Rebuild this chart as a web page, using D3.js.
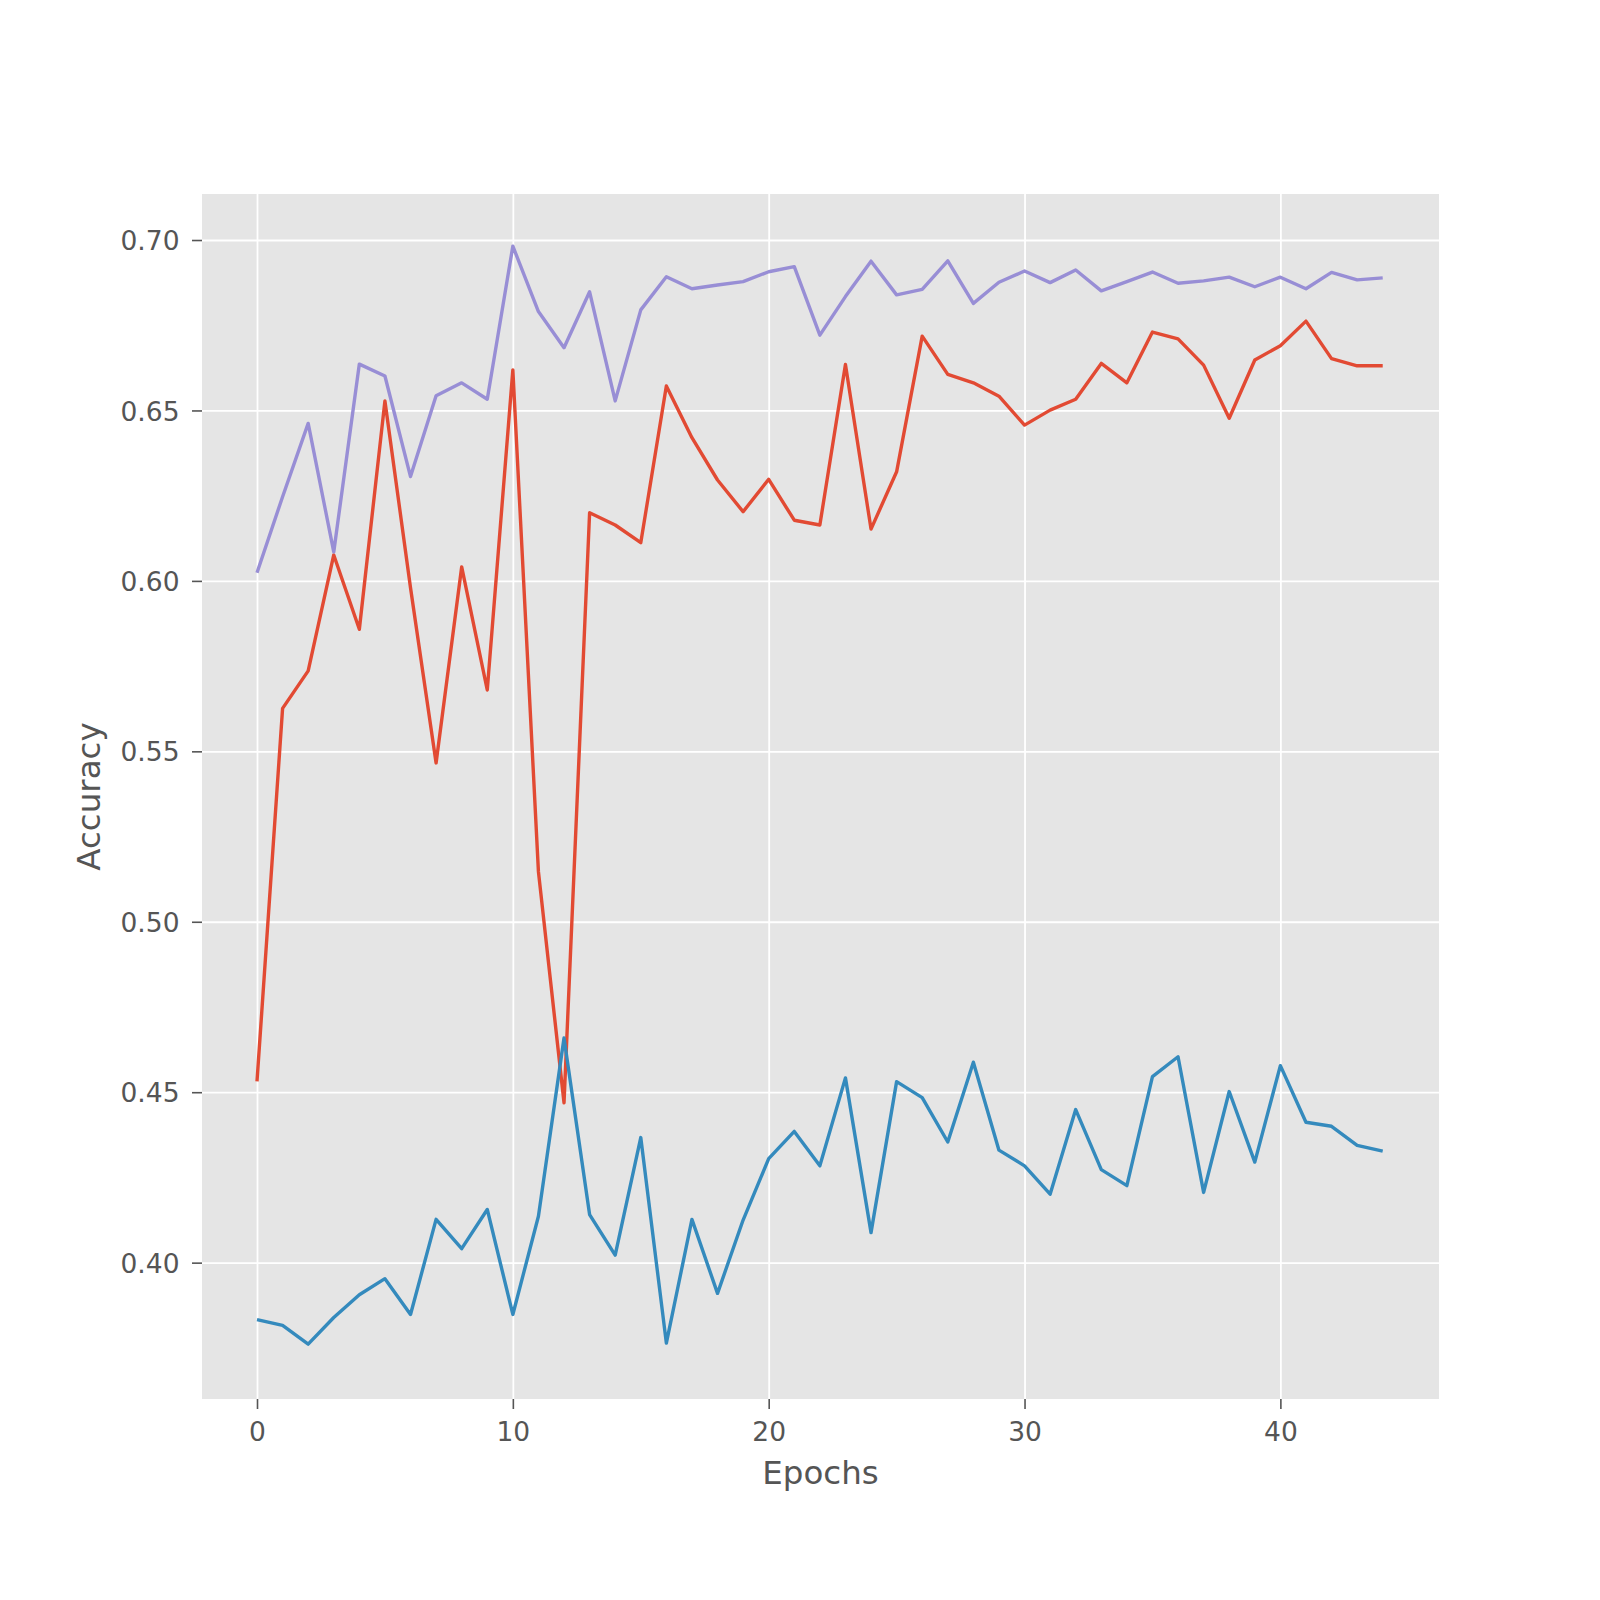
<!DOCTYPE html>
<html>
<head>
<meta charset="utf-8">
<script src="https://cdn.jsdelivr.net/npm/d3@7"></script>
<style>
  html, body { margin: 0; padding: 0; background: #ffffff; }
  svg { display: block; }
</style>
</head>
<body>
<svg id="chart" width="1600" height="1600"></svg>
<script>
// ---- data ----
const epochs = d3.range(0, 45);
const redSeries = [
  0.4532, 0.5626, 0.5736, 0.6076, 0.5858, 0.6528, 0.5980, 0.5466, 0.6041, 0.5680,
  0.6619, 0.5147, 0.4469, 0.6200, 0.6164, 0.6112, 0.6572, 0.6420, 0.6296, 0.6203,
  0.6298, 0.6178, 0.6164, 0.6635, 0.6152, 0.6320, 0.6718, 0.6606, 0.6581, 0.6542,
  0.6457, 0.6501, 0.6533, 0.6638, 0.6581, 0.6730, 0.6710, 0.6633, 0.6477, 0.6648,
  0.6690, 0.6762, 0.6652, 0.6631, 0.6631
];
const blueSeries = [
  0.3833, 0.3816, 0.3761, 0.3839, 0.3906, 0.3953, 0.3848, 0.4127, 0.4041, 0.4156,
  0.3848, 0.4136, 0.4659, 0.4141, 0.4022, 0.4367, 0.3764, 0.4127, 0.3910, 0.4125,
  0.4305, 0.4385, 0.4284, 0.4542, 0.4088, 0.4531, 0.4484, 0.4354, 0.4588, 0.4330,
  0.4284, 0.4201, 0.4449, 0.4273, 0.4226, 0.4546, 0.4604, 0.4206, 0.4502, 0.4295,
  0.4578, 0.4412, 0.4400, 0.4344, 0.4327
];
const purpleSeries = [
  0.6024, 0.6247, 0.6462, 0.6085, 0.6636, 0.6601, 0.6306, 0.6543, 0.6581, 0.6533,
  0.6982, 0.6790, 0.6684, 0.6848, 0.6528, 0.6795, 0.6892, 0.6857, 0.6868, 0.6878,
  0.6907, 0.6922, 0.6721, 0.6834, 0.6938, 0.6839, 0.6855, 0.6939, 0.6814, 0.6876,
  0.6909, 0.6875, 0.6912, 0.6851, 0.6878, 0.6906, 0.6873, 0.6880, 0.6891, 0.6863,
  0.6891, 0.6857, 0.6905, 0.6883, 0.6889
];
const xTicks = [0, 10, 20, 30, 40];
const yTicks = [0.40, 0.45, 0.50, 0.55, 0.60, 0.65, 0.70];
const xLimits = [-2.15, 46.2];
const yLimits = [0.3600, 0.7135];
const xLabel = "Epochs";
const yLabel = "Accuracy";
const seriesColors = ["#E24A33", "#348ABD", "#988ED5"];

// ---- layout ----
const plot = { left: 202, right: 1439, top: 194, bottom: 1399 };
const W = plot.right - plot.left, H = plot.bottom - plot.top;
const tickFont = "26.5px";
const labelFont = "32.5px";
const textColor = "#555555";

const svg = d3.select("#chart");
const g = svg.append("g").attr("transform", `translate(${plot.left},${plot.top})`);

const x = d3.scaleLinear().domain(xLimits).range([0, W]);
const y = d3.scaleLinear().domain(yLimits).range([H, 0]);

// background
g.append("rect").attr("width", W).attr("height", H).attr("fill", "#E5E5E5");

// grid
const gx = g.append("g").attr("transform", `translate(0,${H})`)
  .call(d3.axisBottom(x).tickValues(xTicks).tickSize(-H).tickFormat(""));
const gy = g.append("g")
  .call(d3.axisLeft(y).tickValues(yTicks).tickSize(-W).tickFormat(""));
[gx, gy].forEach(a => {
  a.select(".domain").remove();
  a.selectAll("line").attr("stroke", "#ffffff").attr("stroke-width", 1.8);
});

// lines
const line = d3.line().x((d, i) => x(epochs[i])).y(d => y(d));
[redSeries, blueSeries, purpleSeries].forEach((s, k) => {
  g.append("path").datum(s)
    .attr("d", line)
    .attr("fill", "none")
    .attr("stroke", seriesColors[k])
    .attr("stroke-width", 3.4)
    .attr("stroke-linejoin", "round")
    .attr("stroke-linecap", "butt");
});

// axes
const ax = g.append("g").attr("transform", `translate(0,${H})`)
  .call(d3.axisBottom(x).tickValues(xTicks).tickSize(10).tickPadding(13).tickFormat(d3.format("d")));
const ay = g.append("g")
  .call(d3.axisLeft(y).tickValues(yTicks).tickSize(10).tickPadding(12.5).tickFormat(d3.format(".2f")));
[ax, ay].forEach(a => {
  a.select(".domain").remove();
  a.selectAll("line").attr("stroke", textColor).attr("stroke-width", 1.6);
  a.selectAll("text")
    .attr("fill", textColor)
    .style("font-family", "'DejaVu Sans', sans-serif")
    .style("font-size", tickFont);
});
ay.selectAll("text").attr("dy", "0.36em");

// axis labels
svg.append("text")
  .attr("x", (plot.left + plot.right) / 2)
  .attr("y", 1484)
  .attr("text-anchor", "middle")
  .attr("fill", textColor)
  .style("font-family", "'DejaVu Sans', sans-serif")
  .style("font-size", labelFont)
  .text(xLabel);

svg.append("text")
  .attr("transform", `translate(100,${(plot.top + plot.bottom) / 2}) rotate(-90)`)
  .attr("text-anchor", "middle")
  .attr("fill", textColor)
  .style("font-family", "'DejaVu Sans', sans-serif")
  .style("font-size", labelFont)
  .text(yLabel);
</script>
</body>
</html>
